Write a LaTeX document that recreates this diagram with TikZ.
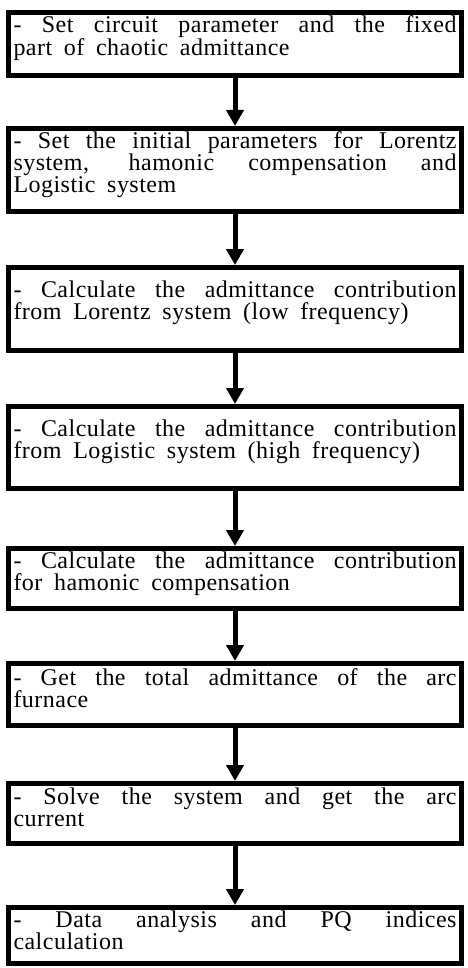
\documentclass[tikz,border=0pt]{standalone}
\usepackage{fontspec}
\setmainfont{Liberation Serif}[LetterSpace=2, WordSpace=1.8]
\usetikzlibrary{arrows.meta,positioning}
\tolerance=10000
\tikzset{
    %Define standard arrow tip
    >={Triangle[width=17pt,length=16pt]},
    %Define style for boxes
    stage/.style={
           rectangle,
           draw=black, line width=5pt,
           inner xsep=5pt, inner ysep=3pt,
           text width=443pt,
           text height=17pt,
           align=justify,
           font=\fontsize{24}{22}\selectfont},
    % Define arrow style
    flow/.style={
           ->,
           line width=5pt,}
}
\begin{document}
\begin{tikzpicture}[x=1pt, y=1pt, node distance=52pt]
    \useasboundingbox (0,0) rectangle (467,-968);
    \node[stage, anchor=north, text depth=40pt] (circuit) at (235,-10) {- Set circuit parameter and the fixed\linebreak part of chaotic admittance};
    \node[stage, text depth=60pt, below=48pt of circuit] (initial) {- Set the initial parameters for Lorentz\linebreak system, hamonic compensation and\linebreak Logistic system};
    \node[stage, text height=27pt, text depth=50pt, below=51pt of initial] (lorentz) {- Calculate the admittance contribution\linebreak from Lorentz system (low frequency)};
    \node[stage, text height=27pt, text depth=49pt, below=51pt of lorentz] (logistic) {- Calculate the admittance contribution\linebreak from Logistic system (high frequency)};
    \node[stage, text depth=37pt, below=55pt of logistic] (harmonic) {- Calculate the admittance contribution\linebreak for hamonic compensation};
    \node[stage, text height=19pt, text depth=37pt, below=50pt of harmonic] (total) {- Get the total admittance of the arc\linebreak furnace};
    \node[stage, text height=18pt, text depth=36pt, below=53pt of total] (solve) {- Solve the system and get the arc\linebreak current};
    \node[stage, text depth=33pt, below=59pt of solve] (analysis) {- Data analysis and PQ indices\linebreak calculation};
    \draw[flow] (circuit) -- (initial);
    \draw[flow] (initial) -- (lorentz);
    \draw[flow] (lorentz) -- (logistic);
    \draw[flow] (logistic) -- (harmonic);
    \draw[flow] (harmonic) -- (total);
    \draw[flow] (total) -- (solve);
    \draw[flow] (solve) -- (analysis);
\end{tikzpicture}
\end{document}
